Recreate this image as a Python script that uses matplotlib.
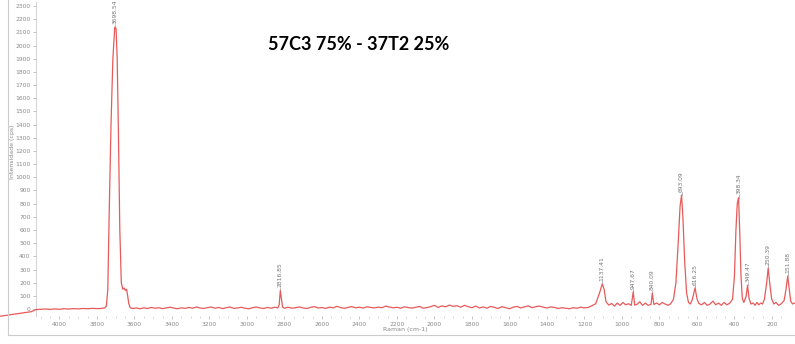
import matplotlib
matplotlib.use("Agg")
import matplotlib.pyplot as plt
from matplotlib.lines import Line2D

# Spectrum (Raman shift cm-1, intensity cps)
shift = [4317, 4150, 4125, 4100, 4075, 4050, 4025, 4000, 3975, 3950, 3925, 3900, 3875, 3850, 3825, 3800,
         3780, 3760, 3750, 3742, 3735, 3725, 3715, 3705, 3698, 3692, 3685, 3678, 3670, 3662, 3655, 3648,
         3642, 3636, 3630, 3622, 3610, 3590, 3570, 3550, 3530, 3510, 3490, 3470, 3450, 3430, 3410, 3390,
         3370, 3350, 3330, 3310, 3290, 3270, 3250, 3230, 3210, 3190, 3170, 3150, 3130, 3110, 3090, 3070,
         3050, 3030, 3010, 2990, 2970, 2950, 2930, 2910, 2890, 2870, 2850, 2835, 2828, 2822, 2816, 2810,
         2800, 2780, 2760, 2740, 2720, 2700, 2680, 2660, 2640, 2620, 2600, 2580, 2560, 2540, 2520, 2500,
         2480, 2460, 2440, 2420, 2400, 2380, 2360, 2340, 2320, 2300, 2280, 2260, 2240, 2220, 2200, 2180,
         2160, 2140, 2120, 2100, 2080, 2060, 2040, 2020, 2000, 1980, 1960, 1940, 1920, 1900, 1880, 1860,
         1840, 1820, 1800, 1780, 1760, 1740, 1720, 1700, 1680, 1660, 1640, 1620, 1600, 1580, 1560, 1540,
         1520, 1500, 1480, 1460, 1440, 1420, 1400, 1380, 1360, 1340, 1320, 1300, 1280, 1260, 1240, 1220,
         1200, 1180, 1160, 1140, 1120, 1105, 1095, 1085, 1070, 1055, 1040, 1025, 1010, 995, 980, 965,
         950, 940, 932, 920, 905, 890, 875, 860, 845, 838, 830, 815, 800, 785, 770, 755,
         740, 725, 712, 700, 690, 682, 675, 665, 655, 645, 635, 625, 610, 600, 590, 575,
         560, 545, 530, 515, 500, 485, 470, 455, 440, 425, 410, 400, 392, 385, 378, 372,
         365, 358, 350, 338, 330, 322, 312, 300, 290, 280, 270, 260, 250, 240, 228, 220,
         212, 202, 190, 178, 165, 150, 135, 125, 116, 110, 100, 90, 80]
intensity = [-55, -20, -4, -2, 0, -3, 1, -2, 2, 0, 3, 1, 4, 2, 5, 3,
             4, 8, 20, 150, 700, 1400, 1900, 2140, 2130, 1900, 1300, 600, 200, 150, 160, 140,
             150, 100, 40, 10, 4, 8, 2, 9, 4, 12, 6, 10, 3, 8, 14, 7,
             2, 9, 5, 12, 6, 15, 8, 4, 11, 15, 6, 12, 3, 10, 15, 5,
             8, 13, 6, 2, 10, 15, 8, 4, 12, 6, 14, 8, 35, 140, 80, 15,
             6, 13, 6, 10, 16, 8, 4, 13, 18, 8, 11, 5, 14, 9, 20, 11,
             5, 13, 18, 9, 14, 7, 17, 12, 8, 14, 10, 22, 15, 9, 13, 6,
             17, 11, 7, 13, 20, 6, 11, 18, 28, 12, 24, 17, 30, 20, 25, 14,
             28, 18, 10, 22, 8, 16, 6, 20, 12, 4, 18, 10, 2, 14, 20, 8,
             16, 24, 10, 18, 22, 14, 8, 16, 12, 4, 10, 6, 2, 10, 6, 14,
             8, 12, 25, 40, 120, 190, 150, 55, 30, 42, 22, 45, 28, 50, 32, 40,
             28, 130, 30, 35, 55, 28, 45, 28, 35, 120, 35, 45, 32, 50, 38, 28,
             40, 75, 200, 500, 780, 865, 700, 350, 120, 50, 38, 70, 160, 80, 42, 32,
             50, 28, 38, 60, 32, 45, 28, 50, 32, 45, 75, 250, 600, 800, 845, 600,
             250, 80, 50, 95, 180, 80, 38, 45, 28, 50, 32, 45, 38, 75, 200, 311,
             200, 80, 38, 50, 28, 40, 65, 150, 250, 180, 60, 38, 45]

# Peak annotations
peak_pos = [3705, 2822, 1105, 940, 838, 682, 610, 378, 330, 220, 116]
peak_height = [2140, 140, 190, 130, 120, 865, 160, 845, 180, 311, 250]
peak_labels = ["3698.54", "2816.85", "1137.41", "947.67", "840.09", "693.09",
               "616.25", "398.34", "349.47", "250.39", "151.88"]

y_ticks = list(range(0, 2400, 100))
x_ticks = list(range(4000, 100, -200))

title = "57C3 75% - 37T2 25%"
x_label = "Raman (cm-1)"
y_label = "Intensidade (cps)"

fig = plt.figure(figsize=(7.95, 3.44), dpi=100)
ax = fig.add_axes([36 / 795, 1 - 316 / 344, 1 - 36 / 795, (316 - 2) / 344])

ax.plot(shift, intensity, color="#e85a5a", lw=0.9, clip_on=False, zorder=3)
ax.set_xlim(4125, 77)
ax.set_ylim(-53, 2331)

for p, h, lab in zip(peak_pos, peak_height, peak_labels):
    ax.plot([p, p], [h, h + 20], color="#999999", lw=0.5)
    ax.text(p, h + 25, lab, rotation=90, ha="center", va="bottom",
            fontsize=4.3, color="#777777")

ax.set_yticks(y_ticks)
ax.set_xticks(x_ticks)
ax.set_xticks(list(range(4100, 100, -50)), minor=True)
ax.tick_params(axis="both", labelsize=4.3, labelcolor="#888888", color="#aaaaaa",
               length=2.5, width=0.5, pad=1.5)
ax.tick_params(axis="x", which="minor", length=1.5, width=0.4, color="#bbbbbb")
for side in ["top", "right", "bottom"]:
    ax.spines[side].set_visible(False)
ax.spines["left"].set_color("#cccccc")
ax.spines["left"].set_linewidth(0.6)

ax.set_facecolor("none")

fig.text(359 / 795, 1 - 45 / 344, title, ha="center", va="center",
         fontsize=13, fontweight="bold", family="Lato", color="black")
fig.text(405 / 795, 1 - 330 / 344, x_label, ha="center", va="center",
         fontsize=4.5, color="#888888")
fig.text(13 / 795, 1 - 152 / 344, y_label, ha="center", va="center",
         rotation=90, fontsize=4.5, color="#888888")

# outer panel frame
fig.add_artist(Line2D([8 / 795, 8 / 795], [1.0, 1 - 335 / 344], color="#cccccc", lw=0.8))
fig.add_artist(Line2D([8 / 795, 1.0], [1 - 335 / 344, 1 - 335 / 344], color="#cccccc", lw=0.8))

fig.savefig("out.png", dpi=100)
